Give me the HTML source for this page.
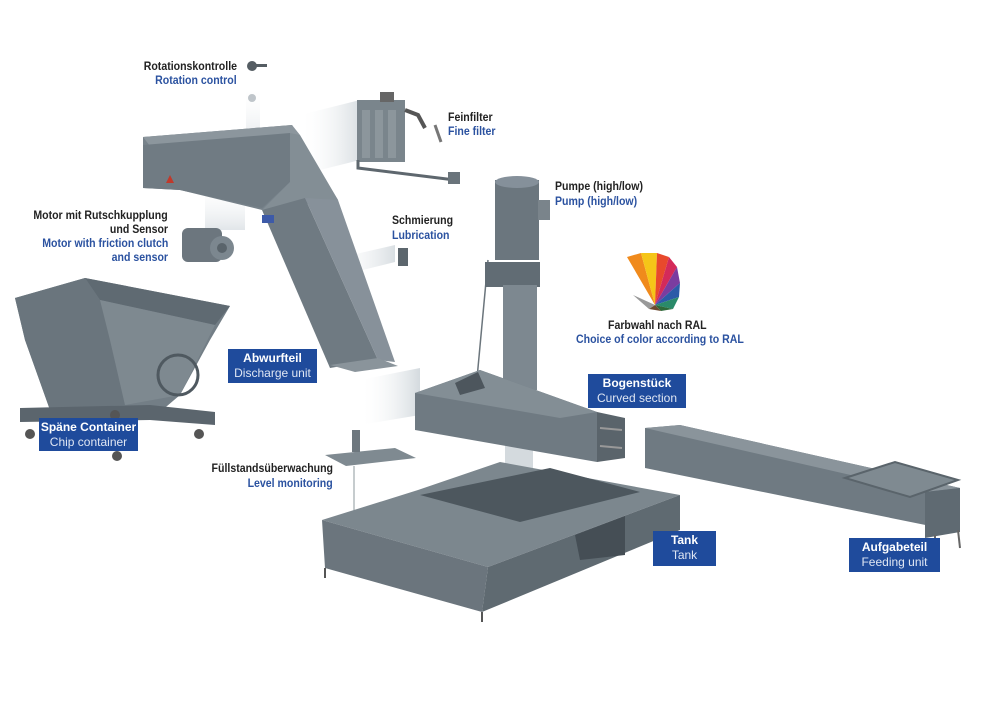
<!DOCTYPE html>
<html><head><meta charset="utf-8"><style>
html,body{margin:0;padding:0;background:#fff;}
body{width:1000px;height:723px;position:relative;overflow:hidden;font-family:"Liberation Sans Narrow","Liberation Sans",sans-serif;}
.t{position:absolute;font-size:12px;line-height:14px;white-space:nowrap;font-weight:bold;transform:scaleX(0.88);}
.k{color:#222;}
.b{color:#2b52a0;}
.r{transform-origin:right top;text-align:right;}
.l{transform-origin:left top;}
.box{position:absolute;background:#1f4b9c;color:#fff;text-align:center;font-size:12px;line-height:15px;padding-top:2px;box-sizing:border-box;}
.box b{display:block;}
.box span{display:block;color:#dfe6f3;}
svg{position:absolute;left:0;top:0;}
</style></head><body>
<svg width="1000" height="723" viewBox="0 0 1000 723">
<defs>
<linearGradient id="fog" x1="0" x2="1"><stop offset="0" stop-color="#fff" stop-opacity="0"/><stop offset="1" stop-color="#cfd6db"/></linearGradient>
<linearGradient id="fogv" x1="0" y1="0" x2="0" y2="1"><stop offset="0" stop-color="#fff" stop-opacity="0"/><stop offset="1" stop-color="#d5dbe0"/></linearGradient>
</defs>
<!-- fog streaks -->
<polygon points="300,115 360,100 360,160 300,175" fill="url(#fog)" opacity=".8"/>
<polygon points="330,260 395,245 395,262 330,278" fill="url(#fog)" opacity=".8"/>
<polygon points="360,380 420,368 420,415 360,425" fill="url(#fog)" opacity=".9"/>
<rect x="205" y="180" width="40" height="50" fill="url(#fogv)" opacity=".7"/>
<rect x="246" y="85" width="14" height="55" fill="url(#fogv)" opacity=".6"/>
<!-- rotation control -->
<circle cx="252" cy="66" r="5" fill="#555d63"/><rect x="255" y="64" width="12" height="3" fill="#555d63"/>
<circle cx="252" cy="98" r="4" fill="#bfc5ca"/>
<!-- discharge hood -->
<polygon points="143,137 292,125 338,200 262,210 180,190 143,188" fill="#77828a"/>
<polygon points="143,137 292,125 300,135 150,146" fill="#8c969d"/>
<polygon points="143,145 290,133 290,182 262,208 180,190 143,188" fill="#707b83"/>
<polygon points="290,133 300,135 338,200 262,210 290,182" fill="#838e95"/>
<!-- chute -->
<polygon points="262,210 305,198 378,360 330,368" fill="#6f7a82"/>
<polygon points="305,198 338,200 395,362 378,360" fill="#87919a"/>
<polygon points="330,365 378,358 398,366 355,372" fill="#8a949b"/>
<rect x="262" y="215" width="12" height="8" fill="#3d5aa8"/>
<polygon points="166,183 170,175 174,183" fill="#c0392b"/>
<!-- motor -->
<rect x="182" y="228" width="40" height="34" rx="6" fill="#6c767e"/>
<circle cx="222" cy="248" r="12" fill="#7c878f"/><circle cx="222" cy="248" r="5" fill="#5a646b"/>
<!-- chip container -->
<polygon points="15,298 85,278 230,306 210,340 180,395 160,412 110,418 50,410 25,340" fill="#737e86"/>
<polygon points="85,278 230,306 215,325 100,300" fill="#5f6a72"/>
<polygon points="15,298 85,278 100,300 110,340 125,405 50,410 25,340" fill="#6a757d"/>
<polygon points="100,300 215,325 180,395 125,405 110,340" fill="#7e8990"/>
<circle cx="178" cy="375" r="20" fill="none" stroke="#4f5960" stroke-width="3"/>
<polygon points="20,408 150,405 215,412 215,425 150,420 20,422" fill="#5b656d"/>
<circle cx="30" cy="434" r="5" fill="#555"/><circle cx="117" cy="456" r="5" fill="#555"/><circle cx="199" cy="434" r="5" fill="#555"/><circle cx="115" cy="415" r="5" fill="#555"/>
<!-- fine filter -->
<rect x="357" y="100" width="48" height="62" fill="#7a858c"/>
<rect x="362" y="110" width="8" height="48" fill="#8c969c"/><rect x="375" y="110" width="8" height="48" fill="#8c969c"/><rect x="388" y="110" width="8" height="48" fill="#8c969c"/>
<rect x="380" y="92" width="14" height="10" fill="#666"/>
<polyline points="405,110 418,115 425,128" fill="none" stroke="#555" stroke-width="4"/>
<line x1="435" y1="125" x2="441" y2="142" stroke="#777" stroke-width="3"/>
<polyline points="358,160 358,168 455,180" fill="none" stroke="#5e676e" stroke-width="3"/>
<rect x="448" y="172" width="12" height="12" fill="#6a747b"/>
<!-- lubrication -->
<rect x="398" y="248" width="10" height="18" fill="#5c666d"/>
<!-- pump column -->
<line x1="488" y1="260" x2="475" y2="400" stroke="#6b757c" stroke-width="1.5"/>
<rect x="495" y="180" width="44" height="80" fill="#6b767e"/>
<ellipse cx="517" cy="182" rx="22" ry="6" fill="#85909a"/>
<rect x="538" y="200" width="12" height="20" fill="#7a848b"/>
<rect x="485" y="262" width="55" height="25" fill="#616c74"/>
<rect x="503" y="285" width="34" height="105" fill="#7d8890"/>
<rect x="505" y="440" width="28" height="40" fill="#b8c2c8" opacity=".6"/>
<!-- RAL fan -->
<g transform="translate(655,305)">
<path d="M0,0 L-28,-48 L-14,-52 Z" fill="#f08a1c"/>
<path d="M0,0 L-14,-52 L2,-52 Z" fill="#f5c518"/>
<path d="M0,0 L2,-52 L14,-48 Z" fill="#e8492c"/>
<path d="M0,0 L14,-48 L22,-38 Z" fill="#d42a5a"/>
<path d="M0,0 L22,-38 L25,-22 Z" fill="#7a3ca0"/>
<path d="M0,0 L25,-22 L24,-8 Z" fill="#2b5aa8"/>
<path d="M0,0 L24,-8 L18,4 Z" fill="#2a8a6a"/>
<path d="M0,0 L18,4 L6,6 Z" fill="#2d6a3a"/>
<path d="M0,0 L6,6 L-6,4 Z" fill="#6b4a30"/>
<path d="M0,0 L-6,4 L-22,-10 Z" fill="#999"/>
</g>
<!-- curved section -->
<polygon points="415,393 480,370 597,412 597,462 415,430" fill="#6f7a82"/>
<polygon points="415,393 480,370 597,412 560,418" fill="#838e95"/>
<polygon points="597,412 625,418 625,458 597,462" fill="#5a646b"/>
<line x1="600" y1="428" x2="622" y2="430" stroke="#999" stroke-width="2"/><line x1="600" y1="446" x2="622" y2="448" stroke="#999" stroke-width="2"/>
<polygon points="455,383 478,372 485,388 460,395" fill="#4d565d"/>
<!-- feeding unit -->
<polygon points="645,428 680,425 960,488 960,532 645,468" fill="#6f7a82"/>
<polygon points="645,428 680,425 960,488 925,492" fill="#8a949b"/>
<polygon points="925,492 960,488 960,532 925,538" fill="#5f6a72"/>
<polygon points="845,478 895,462 958,480 910,497" fill="#7f8a91" stroke="#5a646b" stroke-width="2"/>
<line x1="935" y1="535" x2="935" y2="555" stroke="#666" stroke-width="2"/><line x1="958" y1="530" x2="960" y2="548" stroke="#666" stroke-width="2"/>
<!-- level monitoring -->
<polygon points="325,455 395,448 416,458 346,466" fill="#7f8a91"/>
<rect x="352" y="430" width="8" height="22" fill="#6d777e"/>
<line x1="354" y1="466" x2="354" y2="520" stroke="#8e989e" stroke-width="1"/>
<!-- tank -->
<polygon points="322,520 418,490 500,462 680,495 488,567" fill="#7c878e"/>
<polygon points="420,495 550,468 640,492 520,522" fill="#4d575e"/>
<polygon points="322,520 488,567 482,612 325,568" fill="#6b757d"/>
<polygon points="488,567 680,495 680,530 482,612" fill="#5f6a71"/>
<polygon points="575,535 625,516 625,555 580,560" fill="#454e55"/>
<line x1="325" y1="568" x2="325" y2="578" stroke="#555" stroke-width="2"/><line x1="482" y1="612" x2="482" y2="622" stroke="#555" stroke-width="2"/>
</svg>

<div class="t k r" style="right:763px;top:59px;">Rotationskontrolle</div>
<div class="t b r" style="right:763px;top:73px;">Rotation control</div>
<div class="t k l" style="left:448px;top:110px;">Feinfilter</div>
<div class="t b l" style="left:448px;top:124px;">Fine filter</div>
<div class="t k r" style="right:832px;top:208px;">Motor mit Rutschkupplung</div>
<div class="t k r" style="right:832px;top:222px;">und Sensor</div>
<div class="t b r" style="right:832px;top:236px;">Motor with friction clutch</div>
<div class="t b r" style="right:832px;top:250px;">and sensor</div>
<div class="t k l" style="left:392px;top:213px;">Schmierung</div>
<div class="t b l" style="left:392px;top:228px;">Lubrication</div>
<div class="t k l" style="left:555px;top:179px;">Pumpe (high/low)</div>
<div class="t b l" style="left:555px;top:194px;">Pump (high/low)</div>
<div class="t k l" style="left:608px;top:318px;">Farbwahl nach RAL</div>
<div class="t b l" style="left:576px;top:332px;">Choice of color according to RAL</div>
<div class="t k r" style="right:667px;top:461px;">Füllstandsüberwachung</div>
<div class="t b r" style="right:667px;top:476px;">Level monitoring</div>

<div class="box" style="left:228px;top:349px;width:89px;height:34px;"><b>Abwurfteil</b><span>Discharge unit</span></div>
<div class="box" style="left:39px;top:418px;width:99px;height:33px;"><b>Späne Container</b><span>Chip container</span></div>
<div class="box" style="left:588px;top:374px;width:98px;height:34px;"><b>Bogenstück</b><span>Curved section</span></div>
<div class="box" style="left:653px;top:531px;width:63px;height:35px;"><b>Tank</b><span>Tank</span></div>
<div class="box" style="left:849px;top:538px;width:91px;height:34px;"><b>Aufgabeteil</b><span>Feeding unit</span></div>
</body></html>
